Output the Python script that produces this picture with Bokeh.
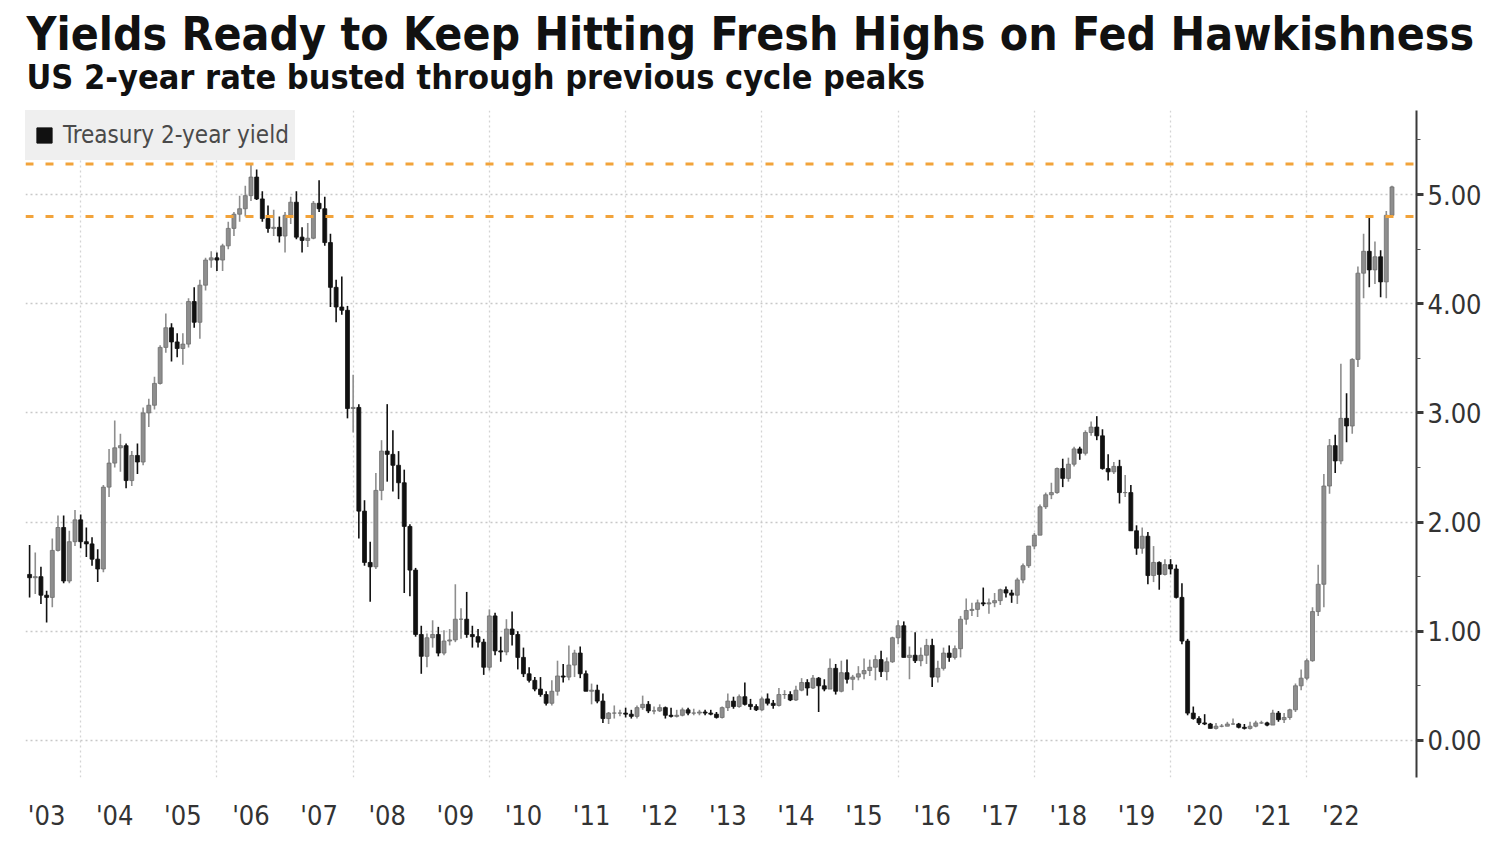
import pandas as pd
from bokeh.plotting import figure
from bokeh.models import (ColumnDataSource, Range1d, FixedTicker, NumeralTickFormatter,
                          Span, Legend, LegendItem, Title)
from bokeh.embed import file_html
from bokeh.resources import INLINE

TITLE = "Yields Ready to Keep Hitting Fresh Highs on Fed Hawkishness"
SUBTITLE = "US 2-year rate busted through previous cycle peaks"
SERIES = "Treasury 2-year yield"

FIRST_MONTH = "2003-03"
LAST_MONTH = "2023-03"

# Monthly OHLC, Mar 2003 .. Mar 2023 (percent)
OPEN = [
    1.52, 1.49, 1.50, 1.33, 1.31, 1.74, 1.95, 1.46, 1.82, 2.02,
    1.82, 1.80, 1.66, 1.57, 2.32, 2.54, 2.68, 2.70, 2.38, 2.61, 2.55, 3.00,
    3.07, 3.27, 3.60, 3.78, 3.65, 3.59, 3.63, 4.02, 3.83, 4.17, 4.40, 4.42,
    4.40, 4.53, 4.69, 4.82, 4.87, 4.99, 5.16, 4.96, 4.78, 4.69, 4.70, 4.62,
    4.81, 4.93, 4.61, 4.58, 4.60, 4.92, 4.87, 4.56, 4.15, 3.97, 3.94, 3.04,
    3.05, 2.10, 1.63, 1.59, 2.29, 2.65, 2.62, 2.52, 2.36, 1.96, 1.56, 0.97,
    0.77, 0.94, 0.97, 0.80, 0.91, 0.92, 1.11, 1.11, 0.97, 0.95, 0.90, 0.67,
    1.14, 0.82, 0.81, 1.02, 0.97, 0.76, 0.61, 0.55, 0.47, 0.42, 0.34, 0.45,
    0.59, 0.58, 0.69, 0.80, 0.61, 0.45, 0.46, 0.36, 0.20, 0.25, 0.25, 0.25,
    0.24, 0.22, 0.30, 0.33, 0.27, 0.27, 0.30, 0.23, 0.22, 0.23, 0.28, 0.25,
    0.25, 0.26, 0.25, 0.24, 0.21, 0.30, 0.36, 0.31, 0.40, 0.33, 0.31, 0.28,
    0.38, 0.34, 0.32, 0.42, 0.42, 0.37, 0.46, 0.53, 0.48, 0.57, 0.50, 0.47,
    0.66, 0.45, 0.62, 0.56, 0.58, 0.61, 0.64, 0.67, 0.74, 0.63, 0.72, 0.94,
    1.05, 0.76, 0.78, 0.73, 0.78, 0.87, 0.58, 0.66, 0.80, 0.76, 0.84, 1.11,
    1.19, 1.20, 1.26, 1.25, 1.26, 1.28, 1.38, 1.35, 1.33, 1.47, 1.60, 1.78,
    1.88, 2.14, 2.25, 2.27, 2.49, 2.40, 2.53, 2.67, 2.63, 2.82, 2.87, 2.79,
    2.49, 2.46, 2.51, 2.27, 2.27, 1.92, 1.76, 1.87, 1.51, 1.63, 1.52, 1.61,
    1.57, 1.31, 0.91, 0.25, 0.20, 0.16, 0.15, 0.11, 0.13, 0.13, 0.15, 0.15,
    0.12, 0.11, 0.13, 0.16, 0.16, 0.14, 0.25, 0.19, 0.21, 0.28, 0.50, 0.57,
    0.73, 1.18, 1.43, 2.33, 2.70, 2.56, 2.95, 2.88, 3.49, 4.28, 4.48, 4.31,
    4.43, 4.20, 4.81,
]
HIGH = [
    1.79, 1.72, 1.59, 1.37, 1.85, 2.06, 2.06, 1.92, 2.11, 2.07,
    1.95, 1.86, 1.75, 2.34, 2.67, 2.93, 2.81, 2.72, 2.65, 2.72, 3.05, 3.13,
    3.33, 3.62, 3.91, 3.82, 3.73, 3.73, 4.05, 4.15, 4.22, 4.42, 4.48, 4.47,
    4.55, 4.75, 4.84, 4.99, 5.08, 5.28, 5.23, 5.03, 4.90, 4.86, 4.80, 4.84,
    4.98, 5.03, 4.70, 4.74, 4.94, 5.13, 4.98, 4.64, 4.22, 4.25, 3.98, 3.35,
    3.08, 2.20, 1.82, 2.45, 2.75, 3.08, 2.84, 2.65, 2.48, 1.98, 1.58, 1.05,
    0.98, 1.10, 1.04, 1.01, 1.02, 1.43, 1.21, 1.36, 1.05, 1.02, 0.93, 1.20,
    1.17, 0.95, 1.11, 1.18, 1.00, 0.85, 0.67, 0.58, 0.58, 0.45, 0.55, 0.73,
    0.70, 0.87, 0.83, 0.86, 0.64, 0.52, 0.51, 0.43, 0.26, 0.32, 0.28, 0.30,
    0.28, 0.32, 0.41, 0.36, 0.31, 0.33, 0.31, 0.30, 0.28, 0.30, 0.30, 0.29,
    0.28, 0.28, 0.28, 0.26, 0.31, 0.43, 0.40, 0.42, 0.53, 0.38, 0.33, 0.40,
    0.43, 0.37, 0.48, 0.46, 0.45, 0.50, 0.57, 0.56, 0.60, 0.58, 0.56, 0.75,
    0.70, 0.73, 0.74, 0.60, 0.68, 0.75, 0.74, 0.78, 0.82, 0.76, 0.95, 1.10,
    1.09, 0.86, 0.99, 0.85, 0.93, 0.93, 0.73, 0.85, 0.87, 0.87, 1.14, 1.30,
    1.26, 1.29, 1.40, 1.30, 1.35, 1.39, 1.41, 1.38, 1.49, 1.62, 1.78, 1.90,
    2.16, 2.27, 2.36, 2.50, 2.58, 2.59, 2.69, 2.69, 2.84, 2.92, 2.97, 2.85,
    2.62, 2.55, 2.57, 2.43, 2.34, 1.97, 1.95, 1.91, 1.78, 1.64, 1.66, 1.66,
    1.61, 1.44, 0.93, 0.31, 0.22, 0.24, 0.16, 0.16, 0.15, 0.17, 0.20, 0.16,
    0.15, 0.17, 0.18, 0.18, 0.17, 0.28, 0.27, 0.25, 0.29, 0.52, 0.65, 0.75,
    1.22, 1.61, 2.44, 2.76, 2.80, 3.45, 3.18, 3.50, 4.34, 4.64, 4.80, 4.57,
    4.49, 4.85, 5.08,
]
LOW = [
    1.31, 1.34, 1.25, 1.08, 1.22, 1.73, 1.44, 1.44, 1.78, 1.76,
    1.68, 1.60, 1.45, 1.54, 2.23, 2.50, 2.46, 2.31, 2.33, 2.44, 2.52, 2.87,
    3.03, 3.26, 3.55, 3.47, 3.51, 3.44, 3.60, 3.78, 3.68, 4.12, 4.33, 4.30,
    4.30, 4.50, 4.62, 4.75, 4.80, 4.94, 4.95, 4.75, 4.65, 4.62, 4.56, 4.47,
    4.73, 4.59, 4.47, 4.52, 4.59, 4.84, 4.53, 3.97, 3.83, 3.90, 2.95, 2.82,
    1.85, 1.60, 1.27, 1.57, 2.20, 2.37, 2.28, 2.21, 1.35, 1.32, 0.95, 0.61,
    0.67, 0.85, 0.77, 0.78, 0.87, 0.90, 0.93, 0.94, 0.85, 0.85, 0.60, 0.64,
    0.78, 0.72, 0.78, 0.87, 0.65, 0.58, 0.53, 0.45, 0.40, 0.32, 0.32, 0.41,
    0.53, 0.55, 0.58, 0.57, 0.45, 0.33, 0.34, 0.16, 0.15, 0.20, 0.22, 0.21,
    0.20, 0.20, 0.28, 0.25, 0.24, 0.26, 0.20, 0.21, 0.21, 0.22, 0.23, 0.23,
    0.23, 0.23, 0.23, 0.20, 0.20, 0.27, 0.29, 0.30, 0.32, 0.28, 0.27, 0.27,
    0.32, 0.29, 0.31, 0.38, 0.36, 0.36, 0.45, 0.41, 0.47, 0.26, 0.45, 0.47,
    0.42, 0.44, 0.52, 0.46, 0.55, 0.56, 0.59, 0.55, 0.58, 0.55, 0.71, 0.88,
    0.76, 0.56, 0.71, 0.68, 0.70, 0.49, 0.53, 0.64, 0.72, 0.74, 0.76, 1.06,
    1.14, 1.13, 1.23, 1.16, 1.22, 1.24, 1.31, 1.26, 1.25, 1.44, 1.58, 1.75,
    1.88, 2.12, 2.21, 2.26, 2.32, 2.37, 2.51, 2.57, 2.61, 2.79, 2.75, 2.48,
    2.38, 2.44, 2.17, 2.23, 1.92, 1.70, 1.71, 1.43, 1.45, 1.38, 1.51, 1.52,
    1.30, 0.88, 0.23, 0.19, 0.14, 0.14, 0.11, 0.10, 0.12, 0.13, 0.14, 0.11,
    0.10, 0.10, 0.12, 0.15, 0.13, 0.14, 0.17, 0.16, 0.19, 0.26, 0.46, 0.55,
    0.72, 1.14, 1.22, 2.26, 2.45, 2.53, 2.73, 2.81, 3.42, 4.05, 4.15, 4.18,
    4.06, 4.05, 4.79,
]
CLOSE = [
    1.49, 1.50, 1.33, 1.31, 1.74, 1.95, 1.46, 1.82, 2.02, 1.82,
    1.80, 1.66, 1.57, 2.32, 2.54, 2.68, 2.70, 2.38, 2.61, 2.55, 3.00, 3.07,
    3.27, 3.60, 3.78, 3.65, 3.59, 3.63, 4.02, 3.83, 4.17, 4.40, 4.42, 4.40,
    4.53, 4.69, 4.82, 4.87, 4.99, 5.16, 4.96, 4.78, 4.69, 4.70, 4.62, 4.81,
    4.93, 4.61, 4.58, 4.60, 4.92, 4.87, 4.56, 4.15, 3.97, 3.94, 3.04, 3.05,
    2.10, 1.63, 1.59, 2.29, 2.65, 2.62, 2.52, 2.36, 1.96, 1.56, 0.97, 0.77,
    0.94, 0.97, 0.80, 0.91, 0.92, 1.11, 1.11, 0.97, 0.95, 0.90, 0.67, 1.14,
    0.82, 0.81, 1.02, 0.97, 0.76, 0.61, 0.55, 0.47, 0.42, 0.34, 0.45, 0.59,
    0.58, 0.69, 0.80, 0.61, 0.45, 0.46, 0.36, 0.20, 0.25, 0.25, 0.25, 0.24,
    0.22, 0.30, 0.33, 0.27, 0.27, 0.30, 0.23, 0.22, 0.23, 0.28, 0.25, 0.25,
    0.26, 0.25, 0.24, 0.21, 0.30, 0.36, 0.31, 0.40, 0.33, 0.31, 0.28, 0.38,
    0.34, 0.32, 0.42, 0.42, 0.37, 0.46, 0.53, 0.48, 0.57, 0.50, 0.47, 0.66,
    0.45, 0.62, 0.56, 0.58, 0.61, 0.64, 0.67, 0.74, 0.63, 0.72, 0.94, 1.05,
    0.76, 0.78, 0.73, 0.78, 0.87, 0.58, 0.66, 0.80, 0.76, 0.84, 1.11, 1.19,
    1.20, 1.26, 1.25, 1.26, 1.28, 1.38, 1.35, 1.33, 1.47, 1.60, 1.78, 1.88,
    2.14, 2.25, 2.27, 2.49, 2.40, 2.53, 2.67, 2.63, 2.82, 2.87, 2.79, 2.49,
    2.46, 2.51, 2.27, 2.27, 1.92, 1.76, 1.87, 1.51, 1.63, 1.52, 1.61, 1.57,
    1.31, 0.91, 0.25, 0.20, 0.16, 0.15, 0.11, 0.13, 0.13, 0.15, 0.15, 0.12,
    0.11, 0.13, 0.16, 0.16, 0.14, 0.25, 0.19, 0.21, 0.28, 0.50, 0.57, 0.73,
    1.18, 1.43, 2.33, 2.70, 2.56, 2.95, 2.88, 3.49, 4.28, 4.48, 4.31, 4.43,
    4.20, 4.81, 5.07,
]

PEAK_LEVELS = [5.28, 4.80]
YEARS = list(range(2003, 2023))
Y_TICKS = [0, 1, 2, 3, 4, 5]
Y_MINOR = [-0.5, 0.5, 1.5, 2.5, 3.5, 4.5, 5.5]
GRID_YEARS = list(range(2004, 2023, 2))

FONT = "DejaVu Sans Condensed"
UP_COLOR = "#8e8e8e"
UP_LINE = "#6f6f6f"
DOWN_COLOR = "#111111"

# ---- build sources ----
months = pd.period_range(FIRST_MONTH, LAST_MONTH, freq="M")
df = pd.DataFrame({"open": OPEN, "high": HIGH, "low": LOW, "close": CLOSE})
# monthly bars are stamped at month end
df["x"] = [m.year + m.month / 12.0 for m in months]
df["top"] = df[["open", "close"]].max(axis=1)
df["bottom"] = df[["open", "close"]].min(axis=1)
up = ColumnDataSource(df[df["close"] >= df["open"]])
down = ColumnDataSource(df[df["close"] < df["open"]])

p = figure(width=1484, height=834, output_backend="svg", toolbar_location=None,
           title=None, x_range=Range1d(2003.19, 2023.61), y_range=Range1d(-0.34, 5.77),
           y_axis_location="right", min_border_left=25, min_border_right=64,
           min_border_top=110, min_border_bottom=57)
p.outline_line_color = None
p.background_fill_color = "white"

# grids
p.ygrid.grid_line_color = "#c8c8c8"
p.ygrid.grid_line_dash = "2 3"
p.ygrid.grid_line_width = 1.5
p.xgrid.ticker = FixedTicker(ticks=GRID_YEARS)
p.xgrid.grid_line_color = "#d4d4d4"
p.xgrid.grid_line_dash = "2 3"
p.xgrid.grid_line_width = 1.3

# previous cycle peak reference lines
for lvl in PEAK_LEVELS:
    p.add_layout(Span(location=lvl, dimension="width", line_color="#f2a33a",
                      line_width=3, line_dash="8 12"))

# candles
p.segment(x0="x", y0="low", x1="x", y1="high", source=up, line_color=UP_COLOR, line_width=1.6)
p.segment(x0="x", y0="low", x1="x", y1="high", source=down, line_color=DOWN_COLOR, line_width=1.6)
p.vbar(x="x", width=0.058, top="top", bottom="bottom", source=up,
       fill_color=UP_COLOR, line_color=UP_LINE, line_width=0.8)
p.vbar(x="x", width=0.058, top="top", bottom="bottom", source=down,
       fill_color=DOWN_COLOR, line_color=DOWN_COLOR, line_width=0.8)

# legend swatch: square marker with a single non-drawn (NaN) point
swatch = p.scatter(x=[float("nan")], y=[float("nan")], marker="square", size=14,
                   fill_color=DOWN_COLOR, line_color=DOWN_COLOR)

# y axis (right)
ya = p.yaxis[0]
ya.ticker = FixedTicker(ticks=Y_TICKS, minor_ticks=Y_MINOR)
ya.formatter = NumeralTickFormatter(format="0.00")
ya.axis_line_color = "#3a3a3a"
ya.axis_line_width = 2
ya.major_tick_line_color = "#3a3a3a"
ya.major_tick_line_width = 3
ya.major_tick_in = 0
ya.major_tick_out = 7
ya.minor_tick_line_color = "#555555"
ya.minor_tick_line_width = 1.2
ya.minor_tick_in = 0
ya.minor_tick_out = 4
ya.axis_label_standoff = 0
ya.major_label_text_font = FONT
ya.major_label_text_font_size = "27px"
ya.major_label_text_color = "#333333"
ya.major_label_standoff = 4

# x axis (bottom): year labels centred mid-year
xa = p.xaxis[0]
xa.ticker = FixedTicker(ticks=[y + 0.5 for y in YEARS])
xa.major_label_overrides = {y + 0.5: "'" + str(y)[2:] for y in YEARS}
xa.axis_line_color = None
xa.major_tick_line_color = None
xa.minor_tick_line_color = None
xa.major_tick_out = 0
xa.major_tick_in = 0
xa.minor_tick_out = 0
xa.minor_tick_in = 0
xa.axis_label_standoff = 0
xa.major_label_text_font = FONT
xa.major_label_text_font_size = "27px"
xa.major_label_text_color = "#333333"
xa.major_label_standoff = 22

# legend
legend = Legend(items=[LegendItem(label=SERIES, renderers=[swatch])],
                location="top_left", margin=0, padding=0, spacing=0,
                glyph_width=38, glyph_height=50, label_standoff=0,
                label_height=50, label_width=232,
                background_fill_color="#efefef", background_fill_alpha=1.0,
                border_line_color=None, label_text_font=FONT,
                label_text_font_size="24px", label_text_color="#4a4a4a")
p.add_layout(legend)

# titles
p.add_layout(Title(text=SUBTITLE, align="left", text_font=FONT, text_font_style="bold",
                   text_font_size="34px", text_color="#111111", offset=1, standoff=27), "above")
p.add_layout(Title(text=TITLE, align="left", text_font=FONT, text_font_style="bold",
                   text_font_size="46px", text_color="#111111", offset=1, standoff=-39), "above")

open("out.html", "w").write(file_html(p, INLINE))
